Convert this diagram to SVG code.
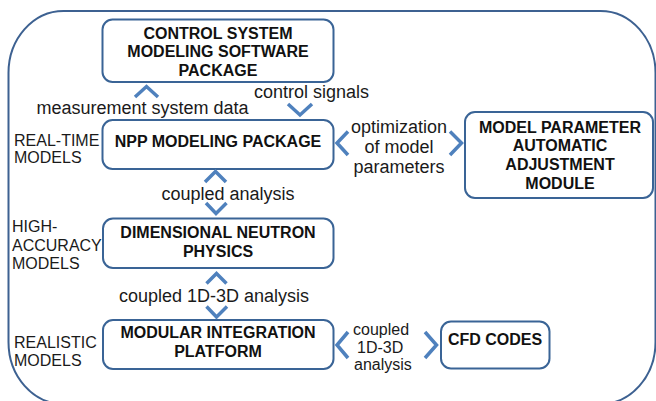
<svg xmlns="http://www.w3.org/2000/svg" width="656" height="401" viewBox="0 0 656 401">
<style>
.outer{fill:none;stroke:#3d6191;stroke-width:2}
.box{fill:#fff;stroke:#3a6496;stroke-width:2}
.chev{fill:none;stroke:#4f81bd;stroke-width:3.5;stroke-linejoin:miter;stroke-linecap:butt}
.b{font-family:"Liberation Sans",Arial,sans-serif;font-weight:bold;font-size:16px;fill:#111;text-anchor:middle}
.l{font-family:"Liberation Sans",Arial,sans-serif;font-size:18px;fill:#1a1a1a}
.s{font-family:"Liberation Sans",Arial,sans-serif;font-size:16px;fill:#1a1a1a}
.m{text-anchor:middle}
</style>
<rect class="outer" x="8.5" y="11" width="647" height="393" rx="55" ry="62"/>
<g id="control">
<rect class="box" x="102.5" y="19.5" width="231" height="62.5" rx="10"/>
<text class="b" x="218" y="38.5">CONTROL SYSTEM</text>
<text class="b" x="218" y="57.3">MODELING SOFTWARE</text>
<text class="b" x="218" y="76">PACKAGE</text>
</g>
<g id="npp">
<rect class="box" x="102.5" y="120" width="231" height="49" rx="10"/>
<text class="b" x="218" y="146.7">NPP MODELING PACKAGE</text>
</g>
<g id="mpaam">
<rect class="box" x="465" y="112" width="188" height="86" rx="10"/>
<text class="b" x="560" y="132.7">MODEL PARAMETER</text>
<text class="b" x="560" y="150.9">AUTOMATIC</text>
<text class="b" x="560" y="170">ADJUSTMENT</text>
<text class="b" x="560" y="188.5">MODULE</text>
</g>
<g id="dnp">
<rect class="box" x="103" y="218.5" width="230.5" height="49.5" rx="10"/>
<text class="b" x="218" y="238.3">DIMENSIONAL NEUTRON</text>
<text class="b" x="218" y="256.7">PHYSICS</text>
</g>
<g id="mip">
<rect class="box" x="103" y="320" width="230.5" height="49" rx="10"/>
<text class="b" x="218" y="337.5">MODULAR INTEGRATION</text>
<text class="b" x="218" y="356.5">PLATFORM</text>
</g>
<g id="cfd">
<rect class="box" x="441" y="321.5" width="108.5" height="47" rx="10"/>
<text class="b" x="495" y="345">CFD CODES</text>
</g>
<g id="side-labels">
<text class="s" x="14" y="145.7">REAL-TIME</text>
<text class="s" x="14" y="163.3">MODELS</text>
<text class="s" x="12" y="232.3">HIGH-</text>
<text class="s" x="12" y="250.7">ACCURACY</text>
<text class="s" x="12" y="269">MODELS</text>
<text class="s" x="14" y="348.3">REALISTIC</text>
<text class="s" x="14" y="366">MODELS</text>
</g>
<g id="connectors">
<polyline class="chev" points="135,97 146.5,86.5 158,97"/>
<polyline class="chev" points="288,104 300,115 312,104"/>
<polyline class="chev" points="348,131.5 337,143 348,155"/>
<polyline class="chev" points="450,131.5 461.5,143 450,155"/>
<polyline class="chev" points="205,182 215.5,171.5 226,182"/>
<polyline class="chev" points="206,203 216,213.5 226.5,203"/>
<polyline class="chev" points="206.5,283.5 216.5,273.5 226.5,283.5"/>
<polyline class="chev" points="206.5,306.5 216.5,317 227,306.5"/>
<polyline class="chev" points="348,332 337,345 348,358"/>
<polyline class="chev" points="425,332 436.5,345 425,358"/>
<text class="l m" x="142.5" y="114">measurement system data</text>
<text class="l" x="254" y="98.3">control signals</text>
<text class="l m" x="399" y="133.3">optimization<tspan x="399" y="153.3">of model</tspan><tspan x="399" y="173.3">parameters</tspan></text>
<text class="l m" x="228" y="200">coupled analysis</text>
<text class="l m" x="214" y="301.7">coupled 1D-3D analysis</text>
<text class="l" x="353" y="335" style="font-size:16px">coupled<tspan x="357" y="352.5">1D-3D</tspan><tspan x="354" y="370">analysis</tspan></text>
</g>
</svg>
